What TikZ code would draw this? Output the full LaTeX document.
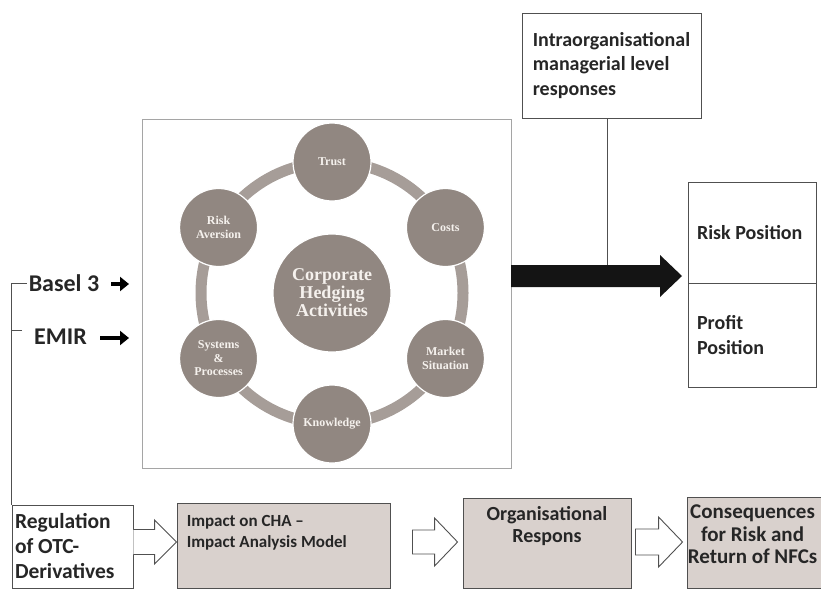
\documentclass[tikz,border=0pt]{standalone}
\usepackage{fontspec}
\setmainfont{Carlito}
\newfontfamily\circlefont{Liberation Serif}
\usetikzlibrary{calc,arrows.meta}

\definecolor{cfill}{RGB}{145,135,129}
\definecolor{cring}{RGB}{166,157,152}
\definecolor{ctext}{RGB}{245,241,237}
\definecolor{bfill}{RGB}{217,209,205}
\definecolor{bline}{RGB}{80,80,80}
\definecolor{mline}{RGB}{165,165,165}
\definecolor{txt}{RGB}{38,38,38}

% hollow block arrow between two points on one horizontal line
% #1 tail, #2 tip, #3 half shaft, #4 half head, #5 head length, #6 tail closing
\newcommand\blockarrow[6]{%
  \draw[hollow] ($(#1)+(0,-#3)$) -- ($(#2)+(-#5,-#3)$) -- ($(#2)+(-#5,-#4)$) -- (#2)
    -- ($(#2)+(-#5,#4)$) -- ($(#2)+(-#5,#3)$) -- ($(#1)+(0,#3)$) #6;}

\begin{document}
\begin{tikzpicture}[x=1pt,y=-1pt,
  box/.style={draw=bline, line width=0.9pt, text=txt, inner sep=0pt,
    font=\bfseries\fontsize{20}{24.4}\selectfont},
  shaded/.style={box, fill=bfill},
  lbl/.style={text=txt, inner sep=0pt},
  sat/.style={circle, fill=cfill, draw=white, line width=1.2pt, minimum size=78pt,
    inner sep=0pt, text=ctext, align=center,
    font=\circlefont\bfseries\fontsize{12}{13.5}\selectfont},
  hubnode/.style={sat, minimum size=118pt,
    font=\circlefont\bfseries\fontsize{18}{18}\selectfont},
  ring/.style={draw=cring, line width=11pt},
  wire/.style={draw=bline, line width=0.8pt},
  hollow/.style={draw=bline, fill=white, line width=0.9pt, line join=miter},
  smallarrow/.style={draw=black, line width=4.6pt,
    -{Triangle[length=9pt,width=14pt]}},
]
\useasboundingbox (0,0) rectangle (821,591);

% central figure: frame, ring and circles
\node[draw=mline, line width=1pt, minimum width=369pt, minimum height=348pt,
  inner sep=0pt] (main) at (326.5,294) {};
\coordinate (centre) at (332,293);
\draw[ring] (centre) circle[radius=131pt];
\node[hubnode] (hub) at (centre) {Corporate\\Hedging\\Activities};
\node[sat] (trust) at ($(hub)+(-90:131)$) {Trust};
\node[sat] (costs) at ($(hub)+(-30:131)$) {Costs};
\node[sat] (market) at ($(hub)+(30:131)$) {Market\\Situation};
\node[sat] (know) at ($(hub)+(90:131)$) {Knowledge};
\node[sat] (systems) at ($(hub)+(150:131)$) {Systems\\\&\\Processes};
\node[sat] (risk) at ($(hub)+(210:131)$) {Risk\\Aversion};

% regulations on the left
\node[lbl, font=\bfseries\fontsize{24}{28}\selectfont] (basel) at (64,283) {Basel 3};
\node[lbl, font=\bfseries\fontsize{24}{28}\selectfont] (emir) at (60.5,337) {EMIR};
\coordinate (b1) at (111,284);
\coordinate (b2) at (129,284);
\coordinate (e1) at (100,338);
\coordinate (e2) at (129,338);
\draw[smallarrow] (b1) -- (b2);
\draw[smallarrow, line width=4pt] (e1) -- (e2);

% right side boxes
\node[box, minimum width=179pt, minimum height=105pt, align=flush left] (intra)
  at (611.5,65.5) {Intraorganisational\\managerial level\\responses};
\node[box, minimum height=101pt, text width=110pt, inner xsep=9pt, align=flush left]
  (rpos) at (752,232.5) {Risk Position};
\node[box, minimum height=104pt, text width=110pt, inner xsep=9pt, align=flush left]
  (ppos) at (752,335) {Profit\\Position};

% big black arrow
\coordinate (bt) at (511,276);
\coordinate (bh) at (682,276);
\draw[wire] ($(intra.south)+(-4.5,0)$) -- ($(intra.south |- bt)+(-4.5,0)$);
\fill[black!92] ($(bt)+(0,-11)$) -- ($(bh)+(-22,-11)$) -- ($(bh)+(-22,-21)$) -- (bh)
  -- ($(bh)+(-22,21)$) -- ($(bh)+(-22,11)$) -- ($(bt)+(0,11)$) -- cycle;

% bottom process chain
\node[box, fill=white, minimum height=83pt, text width=115pt, inner xsep=3pt,
  align=flush left, font=\bfseries\fontsize{21.5}{25}\selectfont] (reg)
  at (72.5,546.5) {Regulation\\of OTC-\\Derivatives};
\node[shaded, minimum width=213pt, minimum height=85pt] (imp) at (283.5,545.5) {};
\node[lbl, anchor=north west, align=flush left,
  font=\bfseries\fontsize{17}{20.5}\selectfont] (impt)
  at ($(imp.north west)+(10,13)$) {Impact on CHA –\\Impact Analysis Model};
\node[shaded, minimum width=168pt, minimum height=90pt] (org) at (547,543) {};
\node[lbl, anchor=north, align=center,
  font=\bfseries\fontsize{20}{21.5}\selectfont] (orgt)
  at ($(org.north)+(0,9)$) {Organisational\\Respons};
\node[shaded, minimum width=143pt, minimum height=91pt] (cons) at (758.5,542.5) {};
\node[lbl, anchor=north, align=center,
  font=\bfseries\fontsize{21}{22.5}\selectfont] (const)
  at ($(cons.north west)+(66,8)$) {Consequences\\for Risk and\\Return of NFCs};

% bracket joining the regulations
\draw[wire] ($(basel.west)+(-2,0)$) -- (basel.west -| reg.west) -- (reg.north west);
\coordinate (et) at (22,330);
\draw[wire] (et) -- (et -| reg.west);

% hollow arrows along the chain
\coordinate (flow) at (0,542);
\coordinate (a1s) at (reg.east |- flow);
\coordinate (a1e) at (imp.west |- flow);
\coordinate (a2s) at ($(imp.east |- flow)+(22,0)$);
\coordinate (a2e) at ($(org.west |- flow)+(-5,0)$);
\coordinate (a3s) at ($(org.east |- flow)+(4,0)$);
\coordinate (a3e) at ($(cons.west |- flow)+(-4,0)$);
\blockarrow{a1s}{a1e}{12.5}{22}{22}{}
\blockarrow{a2s}{a2e}{12}{24}{23}{-- cycle}
\blockarrow{a3s}{a3e}{13}{25}{24}{-- cycle}
\end{tikzpicture}
\end{document}
